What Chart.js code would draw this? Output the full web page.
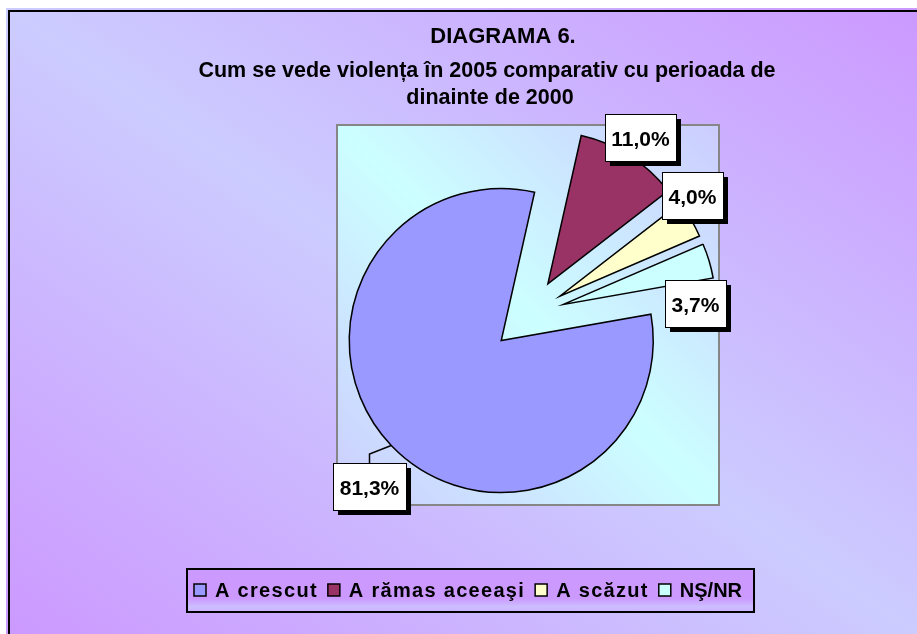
<!DOCTYPE html>
<html>
<head>
<meta charset="utf-8">
<title>Diagrama 6</title>
<script src="https://cdn.jsdelivr.net/npm/chart.js@4.4.1/dist/chart.umd.min.js"></script>
<style>
  body { margin: 0; background: #fff; }
  canvas { display: block; }
</style>
</head>
<body>
<canvas id="grafic" width="917" height="634"></canvas>
<script>
// date
const categorii = ['A crescut', 'A rămas aceeaşi', 'A scăzut', 'NŞ/NR'];
const procente = [81.3, 11.0, 4.0, 3.7];
const culori = ['#9999ff', '#993366', '#ffffcc', '#ccffff'];
const titlu = ['DIAGRAMA 6.', 'Cum se vede violența în 2005 comparativ cu perioada de', 'dinainte de 2000'];

// aspect
const EXPLODARE = 37;                 // px, toate feliile sunt scoase din centru
const plasareEtichete = [             // [rotire fata de mijlocul feliei (grade), distanta, linie de legatura]
  [-4.3, 196, true],
  [0, 173, false],
  [-6.7, 166, false],
  [16.3, 132, false]
];
const spatiereLegenda = [1.3, 1.3, 1.3, 0];

function eticheta(v) {
  return v.toFixed(1).replace('.', ',') + '%';
}

// gradient pe diagonala: "capete" in colturile dreapta-sus / stanga-jos, "mijloc" pe cealalta diagonala
function diagonal(ctx, x0, y0, x1, y1, capete, mijloc) {
  const w = x1 - x0, h = y1 - y0;
  const cx = (x0 + x1) / 2, cy = (y0 + y1) / 2;
  const len = Math.hypot(w, h);
  const nx = h / len, ny = -w / len;
  const p = w * h / len;
  const g = ctx.createLinearGradient(cx + nx * p, cy + ny * p, cx - nx * p, cy - ny * p);
  g.addColorStop(0, capete);
  g.addColorStop(0.5, mijloc);
  g.addColorStop(1, capete);
  return g;
}

function latime(ctx, text, sp) {
  if (!sp) return ctx.measureText(text).width;
  let w = 0;
  for (const ch of text) w += ctx.measureText(ch).width + sp;
  return w;
}

function scrie(ctx, text, x, y, sp) {
  if (!sp) { ctx.fillText(text, x, y); return; }
  for (const ch of text) {
    ctx.fillText(ch, x, y);
    x += ctx.measureText(ch).width + sp;
  }
}

const decor = {
  id: 'decor',
  afterDatasetsUpdate(chart) {
    const meta = chart.getDatasetMeta(0);
    meta.data.forEach(arc => {
      const mid = (arc.startAngle + arc.endAngle) / 2;
      arc.x += Math.cos(mid) * EXPLODARE;
      arc.y += Math.sin(mid) * EXPLODARE;
    });
  },
  beforeDraw(chart) {
    const {ctx, width, height, chartArea: a} = chart;
    ctx.save();
    ctx.fillStyle = '#ffffff';
    ctx.fillRect(0, 0, width, height);
    ctx.fillStyle = diagonal(ctx, 6, 8, width, height, '#cc99ff', '#ccccff');
    ctx.fillRect(6, 8, width - 6, height - 8);
    ctx.strokeStyle = '#000000';
    ctx.lineWidth = 2;
    ctx.strokeRect(9, 11, width, height);

    // zona graficului
    ctx.fillStyle = diagonal(ctx, a.left, a.top, a.right, a.bottom, '#ccccff', '#ccffff');
    ctx.fillRect(a.left, a.top, a.width, a.height);
    ctx.strokeStyle = '#868686';
    ctx.lineWidth = 2;
    ctx.strokeRect(a.left, a.top, a.width, a.height);

    // titlu
    ctx.fillStyle = '#000000';
    ctx.textAlign = 'center';
    ctx.textBaseline = 'alphabetic';
    const fonturi = ['bold 22px Arial', 'bold 21.5px Arial', 'bold 21.5px Arial'];
    const centre = [503, 487, 490];
    const linii = [43, 77, 104];
    titlu.forEach((t, i) => {
      ctx.font = fonturi[i];
      ctx.fillText(t, centre[i], linii[i]);
    });

    // legenda
    ctx.font = 'bold 20px Arial';
    ctx.textAlign = 'left';
    const patrat = 12, dupaPatrat = 9, intreElemente = 10;
    let total = 0;
    categorii.forEach((c, i) => {
      total += patrat + dupaPatrat + latime(ctx, c, spatiereLegenda[i]);
      if (i < categorii.length - 1) total += intreElemente;
    });
    const lx = 194, ly = 590;
    const cutie = {x: lx - 7, y: 569, w: total + 19, h: 43};
    const gl = ctx.createLinearGradient(0, cutie.y, 0, cutie.y + cutie.h);
    gl.addColorStop(0, '#cc9aff');
    gl.addColorStop(0.68, '#cc99ff');
    gl.addColorStop(0.88, '#ccbfff');
    gl.addColorStop(1, '#cdb0ff');
    ctx.fillStyle = gl;
    ctx.fillRect(cutie.x, cutie.y, cutie.w, cutie.h);
    ctx.strokeStyle = '#000000';
    ctx.lineWidth = 2;
    ctx.strokeRect(cutie.x, cutie.y, cutie.w, cutie.h);

    let x = lx;
    categorii.forEach((c, i) => {
      ctx.fillStyle = culori[i];
      ctx.fillRect(x, ly - patrat / 2, patrat, patrat);
      ctx.lineWidth = 1.5;
      ctx.strokeRect(x, ly - patrat / 2, patrat, patrat);
      x += patrat + dupaPatrat;
      ctx.fillStyle = '#000000';
      scrie(ctx, c, x, ly + 7, spatiereLegenda[i]);
      x += latime(ctx, c, spatiereLegenda[i]) + intreElemente;
    });
    ctx.restore();
  },
  afterDatasetsDraw(chart) {
    const {ctx} = chart;
    const meta = chart.getDatasetMeta(0);
    ctx.save();
    ctx.font = 'bold 21px Arial';
    ctx.textAlign = 'center';
    ctx.textBaseline = 'alphabetic';
    meta.data.forEach((arc, i) => {
      const [rotire, dist, legatura] = plasareEtichete[i];
      const mid = (arc.startAngle + arc.endAngle) / 2;
      const ang = mid + rotire * Math.PI / 180;
      const bx = arc.x + Math.cos(ang) * dist;
      const by = arc.y + Math.sin(ang) * dist;
      const text = eticheta(procente[i]);
      const w = Math.round(ctx.measureText(text).width + 13), h = 47;
      const left = Math.round(bx - w / 2), top = Math.round(by - h / 2);
      ctx.strokeStyle = '#000000';
      ctx.lineWidth = 1.5;
      if (legatura) {
        const r = arc.outerRadius;
        ctx.beginPath();
        ctx.moveTo(left + w / 2, top);
        ctx.lineTo(left + w / 2, top - 9);
        ctx.lineTo(arc.x + Math.cos(mid) * r, arc.y + Math.sin(mid) * r);
        ctx.stroke();
      }
      ctx.fillStyle = '#000000';
      ctx.fillRect(left + 5, top + 5, w, h);
      ctx.fillStyle = '#ffffff';
      ctx.fillRect(left, top, w, h);
      ctx.lineWidth = 1;
      ctx.strokeRect(left + 0.5, top + 0.5, w, h);
      ctx.fillStyle = '#000000';
      ctx.fillText(text, left + w / 2, top + h / 2 + 8);
    });
    ctx.restore();
  }
};

new Chart(document.getElementById('grafic'), {
  type: 'pie',
  data: {
    labels: categorii,
    datasets: [{
      data: procente,
      backgroundColor: culori,
      borderColor: '#000000',
      borderWidth: 1.5,
      borderJoinStyle: 'miter'
    }]
  },
  options: {
    responsive: false,
    animation: false,
    events: [],
    rotation: 80,
    radius: 152,
    layout: { padding: { left: 337, right: 198, top: 125, bottom: 129 } },
    plugins: {
      legend: { display: false },
      title: { display: false },
      tooltip: { enabled: false }
    }
  },
  plugins: [decor]
});
</script>
</body>
</html>
